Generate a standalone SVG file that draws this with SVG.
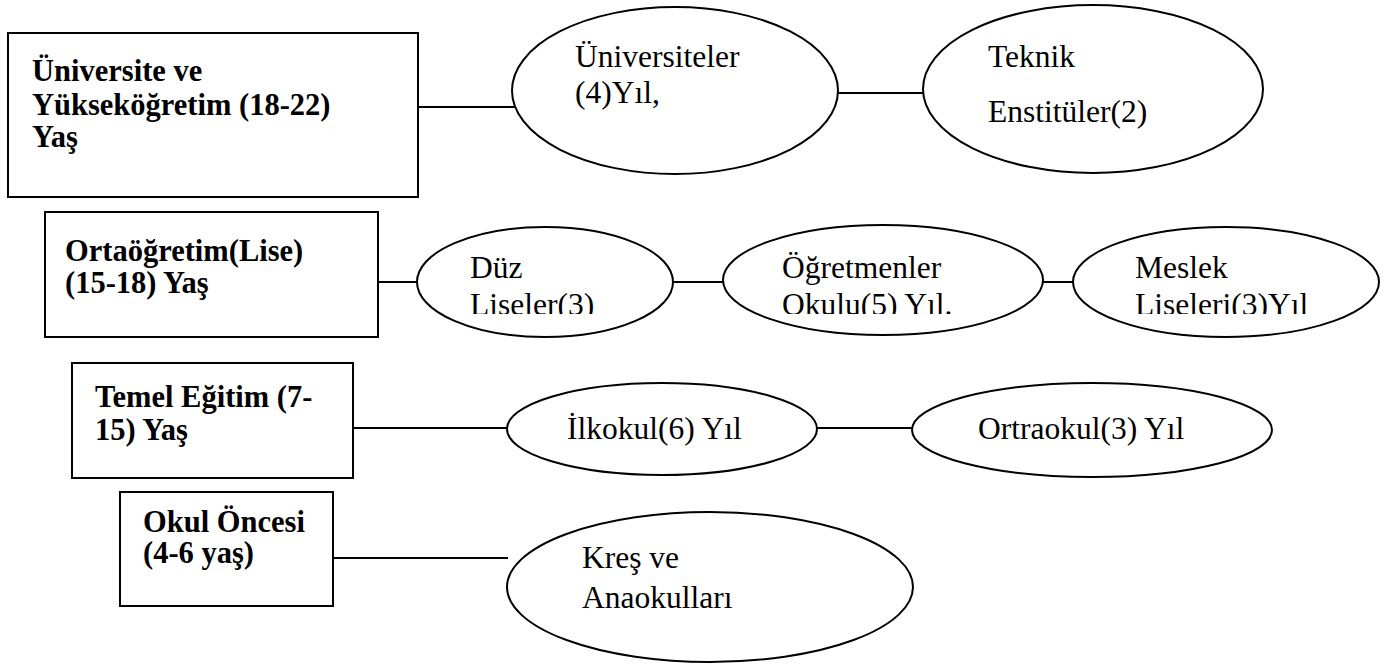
<svg xmlns="http://www.w3.org/2000/svg" width="1386" height="664" viewBox="0 0 1386 664">
<defs>
<style>
.box{fill:#fff;stroke:#000;stroke-width:2}
.ell{fill:#fff;stroke:#000;stroke-width:2}
.ln{stroke:#000;stroke-width:2;fill:none}
text{font-family:'Liberation Serif','Tinos','Times New Roman','DejaVu Serif',serif;fill:#000}
.b{font-weight:bold;font-size:30.5px}
.r{font-weight:normal;font-size:31.5px}
</style>
<clipPath id="clipRow2"><rect x="0" y="0" width="1386" height="314"/></clipPath>
</defs>
<rect width="1386" height="664" fill="#fff"/>
<g id="connectors">
<line class="ln" x1="418" y1="107" x2="515" y2="107"/>
<line class="ln" x1="838" y1="93" x2="923" y2="93"/>
<line class="ln" x1="378" y1="282" x2="418" y2="282"/>
<line class="ln" x1="673" y1="282" x2="723" y2="282"/>
<line class="ln" x1="1043" y1="282" x2="1073" y2="282"/>
<line class="ln" x1="353" y1="428" x2="508" y2="428"/>
<line class="ln" x1="817" y1="428" x2="912" y2="428"/>
<line class="ln" x1="333" y1="558" x2="508" y2="558"/>
</g>
<g id="box-universite">
<rect class="box" x="8" y="33" width="410" height="164"/>
<text class="b" x="32" y="81" font-family="Liberation Serif">Üniversite ve</text>
<text class="b" x="32" y="115" font-family="Liberation Serif">Yükseköğretim (18-22)</text>
<text class="b" x="32" y="147" font-family="Liberation Serif">Yaş</text>
</g>
<g id="ell-universiteler">
<ellipse class="ell" cx="675" cy="90.5" rx="163" ry="83.5"/>
<text class="r" x="575" y="67">Üniversiteler</text>
<text class="r" x="575" y="103">(4)Yıl,</text>
</g>
<g id="ell-teknik">
<ellipse class="ell" cx="1093" cy="89" rx="170" ry="84"/>
<text class="r" x="988" y="67">Teknik</text>
<text class="r" x="988" y="122">Enstitüler(2)</text>
</g>
<g id="box-ortaogretim">
<rect class="box" x="45" y="212" width="333" height="125"/>
<text class="b" x="65" y="261">Ortaöğretim(Lise)</text>
<text class="b" x="65" y="293">(15-18) Yaş</text>
</g>
<g id="ell-duz">
<ellipse class="ell" cx="545" cy="282" rx="128" ry="55"/>
<g clip-path="url(#clipRow2)">
<text class="r" x="470" y="278">Düz</text>
<text class="r" x="470" y="315">Liseler(3)</text>
</g>
</g>
<g id="ell-ogretmenler">
<ellipse class="ell" cx="883" cy="280" rx="160" ry="55"/>
<g clip-path="url(#clipRow2)">
<text class="r" x="782" y="278">Öğretmenler</text>
<text class="r" x="782" y="315">Okulu(5) Yıl.</text>
</g>
</g>
<g id="ell-meslek">
<ellipse class="ell" cx="1226" cy="282" rx="153" ry="55"/>
<g clip-path="url(#clipRow2)">
<text class="r" x="1135" y="278">Meslek</text>
<text class="r" x="1135" y="315">Liseleri(3)Yıl</text>
</g>
</g>
<g id="box-temel">
<rect class="box" x="72" y="363" width="281" height="115"/>
<text class="b" x="95" y="407">Temel Eğitim (7-</text>
<text class="b" x="95" y="440">15) Yaş</text>
</g>
<g id="ell-ilkokul">
<ellipse class="ell" cx="662" cy="429" rx="155" ry="46"/>
<text class="r" x="567" y="439">İlkokul(6) Yıl</text>
</g>
<g id="ell-ortaokul">
<ellipse class="ell" cx="1092" cy="430" rx="180" ry="47"/>
<text class="r" x="978" y="439">Ortraokul(3) Yıl</text>
</g>
<g id="box-okuloncesi">
<rect class="box" x="120" y="492" width="213" height="114"/>
<text class="b" x="143" y="532">Okul Öncesi</text>
<text class="b" x="143" y="563">(4-6 yaş)</text>
</g>
<g id="ell-kres">
<ellipse class="ell" cx="710" cy="587" rx="203" ry="75"/>
<text class="r" x="582" y="568">Kreş ve</text>
<text class="r" x="582" y="608">Anaokulları</text>
</g>
</svg>
